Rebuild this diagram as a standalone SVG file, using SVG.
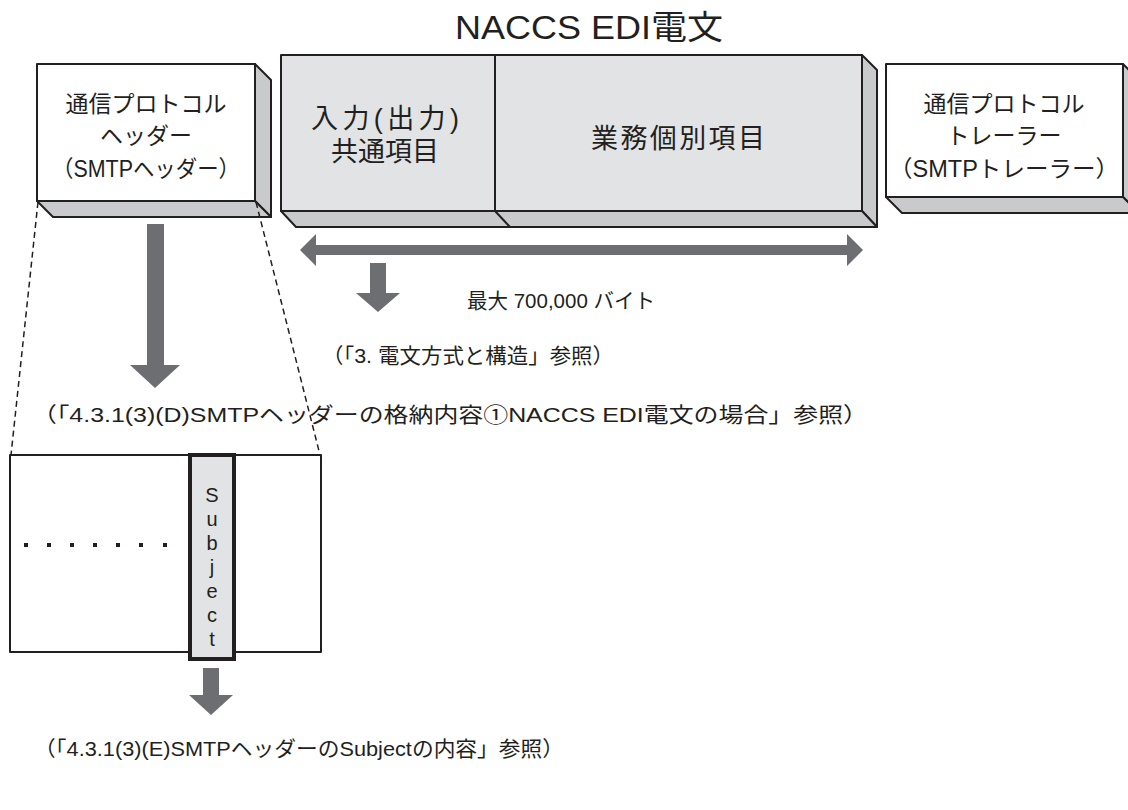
<svg xmlns="http://www.w3.org/2000/svg" width="1128" height="810" viewBox="0 0 1128 810">
<style>
text{font-family:"Liberation Sans","Noto Sans CJK JP",sans-serif;fill:#231f20}
.box{stroke:#231f20;stroke-width:2;stroke-linejoin:round}
.face{fill:#c9cacc}
.lbl{font-size:23px;text-anchor:middle}
.big{font-size:27px;text-anchor:middle}
.note{font-size:21px}
.arr{fill:#6d6e71}
.dash{stroke:#231f20;stroke-width:1.5;stroke-dasharray:6,4;fill:none}
</style>
<rect width="1128" height="810" fill="#fff"/>
<text x="589" y="39" font-size="33" text-anchor="middle" textLength="268" lengthAdjust="spacingAndGlyphs">NACCS EDI電文</text>

<g id="header">
<polygon class="box face" points="255,64 271,80 271,217 255,201"/>
<polygon class="box face" points="37,201 255,201 271,217 53,217"/>
<rect class="box" x="37" y="64" width="218" height="137" fill="#fff"/>
<text class="lbl" x="146" y="112">通信プロトコル</text>
<text class="lbl" x="146" y="144">ヘッダー</text>
<text class="lbl" x="146" y="177" textLength="188" lengthAdjust="spacingAndGlyphs">（SMTPヘッダー）</text>
</g>

<g id="body">
<polygon class="box face" points="862,55 877,70 877,227 862,211"/>
<polygon class="box face" points="281,211 862,211 877,227 296,227"/>
<line class="box" x1="495" y1="211" x2="510" y2="227"/>
<rect class="box" x="281" y="55" width="581" height="156" fill="#e2e3e5"/>
<line class="box" x1="495" y1="55" x2="495" y2="211"/>
<text class="big" x="385" y="128" textLength="148" lengthAdjust="spacing">入力(出力)</text>
<text class="big" x="385" y="161">共通項目</text>
<text class="big" x="678" y="148" textLength="174" lengthAdjust="spacing">業務個別項目</text>
</g>

<g id="trailer">
<polygon class="box face" points="1123,64 1139,80 1139,213 1123,197"/>
<polygon class="box face" points="886,197 1123,197 1139,213 902,213"/>
<rect class="box" x="886" y="64" width="237" height="133" fill="#fff"/>
<text class="lbl" x="1004" y="112">通信プロトコル</text>
<text class="lbl" x="1004" y="144">トレーラー</text>
<text class="lbl" x="1004" y="177" textLength="230" lengthAdjust="spacingAndGlyphs">（SMTPトレーラー）</text>
</g>

<g id="detail">
<rect class="box" x="10" y="455" width="311" height="197" fill="#fff"/>
<rect x="190" y="455" width="44" height="204" fill="#e2e3e5" stroke="#231f20" stroke-width="4"/>
<g font-size="20" text-anchor="middle">
<text x="212" y="502">S</text>
<text x="212" y="526">u</text>
<text x="212" y="550">b</text>
<text x="212" y="574">j</text>
<text x="212" y="598">e</text>
<text x="212" y="622">c</text>
<text x="212" y="646">t</text>
</g>
<g fill="#231f20">
<rect x="24" y="543" width="4" height="4"/>
<rect x="47" y="543" width="4" height="4"/>
<rect x="70" y="543" width="4" height="4"/>
<rect x="93" y="543" width="4" height="4"/>
<rect x="116" y="543" width="4" height="4"/>
<rect x="139" y="543" width="4" height="4"/>
<rect x="163" y="543" width="4" height="4"/>
</g>
</g>

<g id="connectors">
<line class="dash" x1="38" y1="202" x2="11" y2="455"/>
<line class="dash" x1="256" y1="202" x2="320" y2="455"/>
<polygon class="arr" points="300,250 316,234 316,245 847,245 847,234 863,250 847,266 847,255 316,255 316,266"/>
<polygon class="arr" points="370,263 386,263 386,293 400,293 378,312 356,293 370,293"/>
<polygon class="arr" points="147,224 164,224 164,365 180,365 155,388 130,365 147,365"/>
<polygon class="arr" points="203,668 219,668 219,695 233,695 211,715 189,695 203,695"/>
</g>

<g id="notes">
<text class="note" x="467" y="308" textLength="188" lengthAdjust="spacingAndGlyphs">最大 700,000 バイト</text>
<text class="note" x="322" y="363" textLength="292" lengthAdjust="spacingAndGlyphs">（「3. 電文方式と構造」参照）</text>
<text class="note" x="32" y="422" textLength="836" lengthAdjust="spacingAndGlyphs">（「4.3.1(3)(D)SMTPヘッダーの格納内容①NACCS EDI電文の場合」参照）</text>
<text class="note" x="34" y="756" textLength="530" lengthAdjust="spacingAndGlyphs">（「4.3.1(3)(E)SMTPヘッダーのSubjectの内容」参照）</text>
</g>
</svg>
